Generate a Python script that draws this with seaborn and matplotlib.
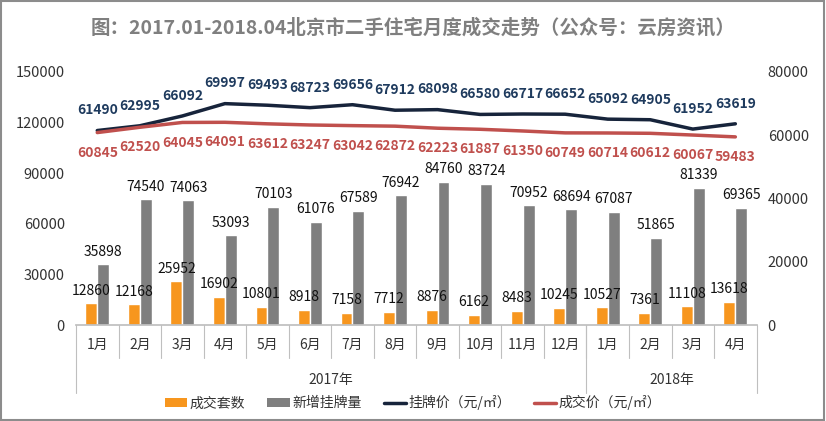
import numpy as np
import pandas as pd
import matplotlib
matplotlib.use("Agg")
import matplotlib.pyplot as plt
import matplotlib.transforms as mtransforms
from matplotlib.lines import Line2D
from matplotlib.patches import Patch, Rectangle
import seaborn as sns

# data
months = ["1月", "2月", "3月", "4月", "5月", "6月", "7月", "8月", "9月", "10月", "11月", "12月",
          "1月", "2月", "3月", "4月"]
years = ["2017年", "2018年"]
year_spans = [12, 4]
deals = [12860, 12168, 25952, 16902, 10801, 8918, 7158, 7712, 8876, 6162, 8483, 10245,
         10527, 7361, 11108, 13618]
new_listings = [35898, 74540, 74063, 53093, 70103, 61076, 67589, 76942, 84760, 83724, 70952, 68694,
                67087, 51865, 81339, 69365]
list_price = [61490, 62995, 66092, 69997, 69493, 68723, 69656, 67912, 68098, 66580, 66717, 66652,
              65092, 64905, 61952, 63619]
deal_price = [60845, 62520, 64045, 64091, 63612, 63247, 63042, 62872, 62223, 61887, 61350, 60749,
              60714, 60612, 60067, 59483]

c_orange = "#F7961E"
c_gray = "#7F7F7F"
c_navy = "#17243B"
c_navy_txt = "#1F3B5E"
c_red = "#C0504D"
txt = "#333333"

sns.set_theme(style="white")
plt.rcParams["font.family"] = ["Noto Sans CJK SC", "DejaVu Sans"]

fig = plt.figure(figsize=(8.26, 4.21), dpi=100)
ax = fig.add_axes([0.092, 0.228, 0.824, 0.601])

n = len(months)
keys = [f"k{i:02d}" for i in range(n)]
bars = pd.DataFrame({
    "key": keys * 2,
    "value": deals + new_listings,
    "series": ["成交套数"] * n + ["新增挂牌量"] * n,
})
sns.barplot(data=bars, x="key", y="value", hue="series", order=keys,
            palette=[c_orange, c_gray], width=0.56, saturation=1, ax=ax, legend=False)
for cont in ax.containers:
    ax.bar_label(cont, fmt="%d", padding=4, fontsize=10, color="#111111")

ax.set_ylim(0, 150000)
ax.set_yticks(range(0, 150001, 30000))
ax.set_xlim(-0.5, n - 0.5)
ax.set_xlabel("")
ax.set_ylabel("")
ax.set_xticks([])
for s in ["top", "left", "right"]:
    ax.spines[s].set_visible(False)
ax.spines["bottom"].set_color("#BFBFBF")
ax.tick_params(axis="y", length=0, labelsize=10.5, labelcolor=txt, pad=8)

ax2 = ax.twinx()
x = np.arange(n)
sns.lineplot(x=x, y=list_price, color=c_navy, lw=2.5, ax=ax2)
sns.lineplot(x=x, y=deal_price, color=c_red, lw=2.5, ax=ax2)
ax2.set_ylim(0, 80000)
ax2.set_yticks(range(0, 80001, 20000))
ax2.set_xlim(-0.5, n - 0.5)
for s in ax2.spines.values():
    s.set_visible(False)
ax2.tick_params(axis="y", length=0, labelsize=10.5, labelcolor=txt, pad=8)
for i in range(n):
    ax2.annotate(str(list_price[i]), (i, list_price[i]), xytext=(0, 14.5), textcoords="offset points",
                 ha="center", va="center", fontsize=10, fontweight="bold", color=c_navy_txt)
    ax2.annotate(str(deal_price[i]), (i, deal_price[i]), xytext=(0, -14.5), textcoords="offset points",
                 ha="center", va="center", fontsize=10, fontweight="bold", color=c_red)

# two-level category axis
tr = mtransforms.blended_transform_factory(ax.transData, ax.transAxes)
px = 1 / 253
for i, m in enumerate(months):
    ax.text(i, -20 * px, m, transform=tr, ha="center", va="center", fontsize=10, color=txt)
for b in np.arange(0.5, n - 1, 1):
    ax.plot([b, b], [0, -33 * px], transform=tr, color="#BFBFBF", lw=0.8, clip_on=False)
start = -0.5
edges = [start]
for yr, span in zip(years, year_spans):
    ax.text(start + span / 2, -55 * px, yr, transform=tr, ha="center", va="center", fontsize=10, color=txt)
    start += span
    edges.append(start)
for e in edges:
    ax.plot([e, e], [0, -68 * px], transform=tr, color="#BFBFBF", lw=0.8, clip_on=False)

handles = [
    Patch(facecolor=c_orange, edgecolor="none"),
    Patch(facecolor=c_gray, edgecolor="none"),
    Line2D([], [], color=c_navy, lw=2.5),
    Line2D([], [], color=c_red, lw=2.5),
]
labels = ["成交套数", "新增挂牌量", "挂牌价（元/㎡）", "成交价（元/㎡）"]
fig.legend(handles, labels, loc="center", bbox_to_anchor=(0.5, 0.043), ncol=4, frameon=False,
           fontsize=10, handlelength=1.6, handleheight=0.7, handletextpad=0.2, columnspacing=1.6,
           labelcolor=txt)

fig.text(0.5, 1 - 28 / 421, "图：2017.01-2018.04北京市二手住宅月度成交走势（公众号：云房资讯）",
         ha="center", va="center", fontsize=14, fontweight="bold", color="#7F7F7F")

fig.patches.append(Rectangle((0.001, 0.002), 0.997, 0.996, transform=fig.transFigure, fill=False,
                             edgecolor="#8C8C8C", lw=1.5))

fig.savefig("out.png", dpi=100)
